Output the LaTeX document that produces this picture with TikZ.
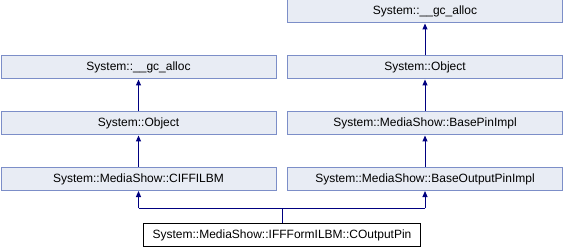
\documentclass[tikz,border=0pt]{standalone}
\usepackage{fontspec}
\setmainfont{Liberation Sans}
\usetikzlibrary{arrows.meta}
\definecolor{boxfill}{HTML}{E8ECF4}
\definecolor{boxline}{HTML}{7C8EC8}
\definecolor{edge}{HTML}{000080}
\tikzset{
  classbox/.style={draw=boxline, fill=boxfill, line width=1pt, minimum width=275pt,
    minimum height=23pt, inner sep=0pt, font=\fontsize{12}{14}\selectfont},
  mainbox/.style={draw=black, fill=white, line width=1pt, minimum width=277pt,
    minimum height=23pt, inner sep=0pt, font=\fontsize{12}{14}\selectfont},
  inherit/.style={draw=edge, line width=1pt, -{Triangle[length=6pt,width=5pt]}},
  link/.style={draw=edge, line width=1pt}
}
\begin{document}
\begin{tikzpicture}[x=1pt,y=-1pt]
\useasboundingbox (0,0) rectangle (564,248);
% left branch
\node[classbox] (lgc)   at (138.5,67.5)  {System::\_\_gc\_alloc};
\node[classbox] (lobj)  at (138.5,123.5) {System::Object};
\node[classbox] (ciff)  at (138.5,179)   {System::MediaShow::CIFFILBM};
% right branch
\node[classbox] (rgc)   at (425,11.5)  {System::\_\_gc\_alloc};
\node[classbox] (robj)  at (425,67.5)  {System::Object};
\node[classbox] (bpin)  at (425,123.5) {System::MediaShow::BasePinImpl};
\node[classbox] (bout)  at (425,179)   {System::MediaShow::BaseOutputPinImpl};
% derived class
\node[mainbox] (cout) at (282,235) {System::MediaShow::IFFFormILBM::COutputPin};
% inheritance edges
\draw[inherit] (lobj.north) -- (lgc.south);
\draw[inherit] (ciff.north) -- (lobj.south);
\draw[inherit] (robj.north) -- (rgc.south);
\draw[inherit] (bpin.north) -- (robj.south);
\draw[inherit] (bout.north) -- (bpin.south);
\coordinate (join) at (cout.north |- 0,208);
\coordinate (jl) at (ciff.south |- join);
\coordinate (jr) at (bout.south |- join);
\draw[link] (cout.north) -- (join);
\draw[link] (jl) -- (jr);
\draw[inherit] (jl) -- (ciff.south);
\draw[inherit] (jr) -- (bout.south);
\end{tikzpicture}
\end{document}
